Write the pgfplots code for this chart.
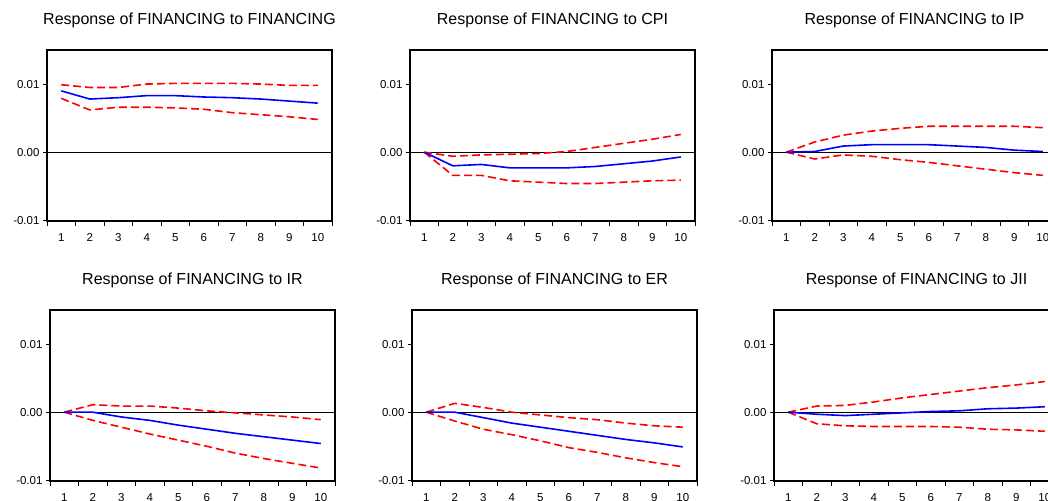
\documentclass[border=0pt]{standalone}
\usepackage{fontspec}
\setmainfont{Liberation Sans}
\usepackage{pgfplots}
\usepackage{pgfplotstable}
\pgfplotsset{compat=1.18}

% impulse responses, +/- 2 s.e. bands
\pgfplotstableread{
h resp lo hi
1 0.0090 0.0079 0.0099
2 0.0078 0.0062 0.0095
3 0.0080 0.0066 0.0095
4 0.0083 0.0066 0.0100
5 0.0083 0.0065 0.0101
6 0.0081 0.0063 0.0101
7 0.0080 0.0058 0.0101
8 0.0078 0.0055 0.0100
9 0.0075 0.0052 0.0098
10 0.0072 0.0048 0.0098
}\tfin
\pgfplotstableread{
h resp lo hi
1 0.0000 0.0000 0.0000
2 -0.0020 -0.0034 -0.0006
3 -0.0018 -0.0034 -0.0004
4 -0.0023 -0.0042 -0.0003
5 -0.0023 -0.0044 -0.0002
6 -0.0023 -0.0046 0.0001
7 -0.0021 -0.0046 0.0007
8 -0.0017 -0.0044 0.0013
9 -0.0013 -0.0042 0.0019
10 -0.0007 -0.0041 0.0026
}\tcpi
\pgfplotstableread{
h resp lo hi
1 0.0000 0.0000 0.0000
2 0.0001 -0.0010 0.0015
3 0.0009 -0.0004 0.0025
4 0.0011 -0.0006 0.0031
5 0.0011 -0.0011 0.0035
6 0.0011 -0.0015 0.0038
7 0.0009 -0.0020 0.0038
8 0.0007 -0.0025 0.0038
9 0.0003 -0.0030 0.0038
10 0.0001 -0.0034 0.0036
}\tip
\pgfplotstableread{
h resp lo hi
1 0.0000 0.0000 0.0000
2 0.0000 -0.0012 0.0011
3 -0.0007 -0.0022 0.0009
4 -0.0012 -0.0032 0.0009
5 -0.0019 -0.0041 0.0006
6 -0.0025 -0.0050 0.0002
7 -0.0031 -0.0060 -0.0001
8 -0.0036 -0.0068 -0.0004
9 -0.0041 -0.0075 -0.0007
10 -0.0046 -0.0082 -0.0011
}\tir
\pgfplotstableread{
h resp lo hi
1 0.0000 0.0000 0.0000
2 0.0000 -0.0013 0.0013
3 -0.0008 -0.0025 0.0007
4 -0.0016 -0.0033 0.0000
5 -0.0022 -0.0042 -0.0004
6 -0.0028 -0.0052 -0.0008
7 -0.0034 -0.0059 -0.0011
8 -0.0040 -0.0067 -0.0016
9 -0.0045 -0.0074 -0.0020
10 -0.0051 -0.0080 -0.0022
}\ter
\pgfplotstableread{
h resp lo hi
1 0.0000 0.0000 0.0000
2 -0.0003 -0.0017 0.0009
3 -0.0005 -0.0020 0.0010
4 -0.0003 -0.0021 0.0015
5 -0.0001 -0.0021 0.0021
6 0.0001 -0.0021 0.0026
7 0.0002 -0.0022 0.0031
8 0.0005 -0.0025 0.0036
9 0.0006 -0.0026 0.0040
10 0.0008 -0.0028 0.0045
}\tjii

\pgfplotsset{
  irf/.style={
    scale only axis, width=285pt, height=171pt, anchor=north west,
    xmin=0.5, xmax=10.5, ymin=-0.0101, ymax=0.015,
    axis line style={line width=2pt},
    tick align=outside, tick pos=left,
    scaled y ticks=false,
    /pgf/number format/assume math mode=true,
    xtick={1,...,10},
    minor xtick={0.5,1.5,...,10.5},
    major x tick style={draw=none},
    ytick={-0.01,0,0.01},
    yticklabels={-0.01,0.00,0.01},
    major tick length=4pt, minor tick length=5pt,
    every tick/.style={black, line width=0.9pt},
    tick label style={font=\fontsize{11.5}{13}\selectfont},
    xticklabel style={yshift=-5pt},
    title style={at={(0.5,1)}, anchor=base, yshift=19pt, inner sep=0pt,
      font=\fontsize{16}{18}\selectfont},
  },
  band/.style={red, line width=1.6pt, dash pattern=on 8pt off 4pt},
  mid/.style={blue, line width=1.6pt},
}

\newcommand{\irfplots}[1]{%
  \addplot[black, line width=0.8pt, forget plot] coordinates {(0.5,0) (10.5,0)};
  \addplot[band] table[x=h, y=hi] {#1};
  \addplot[band] table[x=h, y=lo] {#1};
  \addplot[mid] table[x=h, y=resp] {#1};
}

\begin{document}
\begin{tikzpicture}[x=1pt, y=1pt]
\useasboundingbox (0,0) rectangle (1048,500);
\clip (0,0) rectangle (1048,500);

\begin{axis}[irf, at={(47pt,450pt)}, title={Response of FINANCING to FINANCING}]
\irfplots{\tfin}
\end{axis}
\begin{axis}[irf, at={(410pt,450pt)}, title={Response of FINANCING to CPI}]
\irfplots{\tcpi}
\end{axis}
\begin{axis}[irf, at={(772pt,450pt)}, title={Response of FINANCING to IP}]
\irfplots{\tip}
\end{axis}

\begin{axis}[irf, at={(50pt,190pt)}, title={Response of FINANCING to IR}]
\irfplots{\tir}
\end{axis}
\begin{axis}[irf, at={(412pt,190pt)}, title={Response of FINANCING to ER}]
\irfplots{\ter}
\end{axis}
\begin{axis}[irf, at={(774pt,190pt)}, title={Response of FINANCING to JII}]
\irfplots{\tjii}
\end{axis}
\end{tikzpicture}
\end{document}
